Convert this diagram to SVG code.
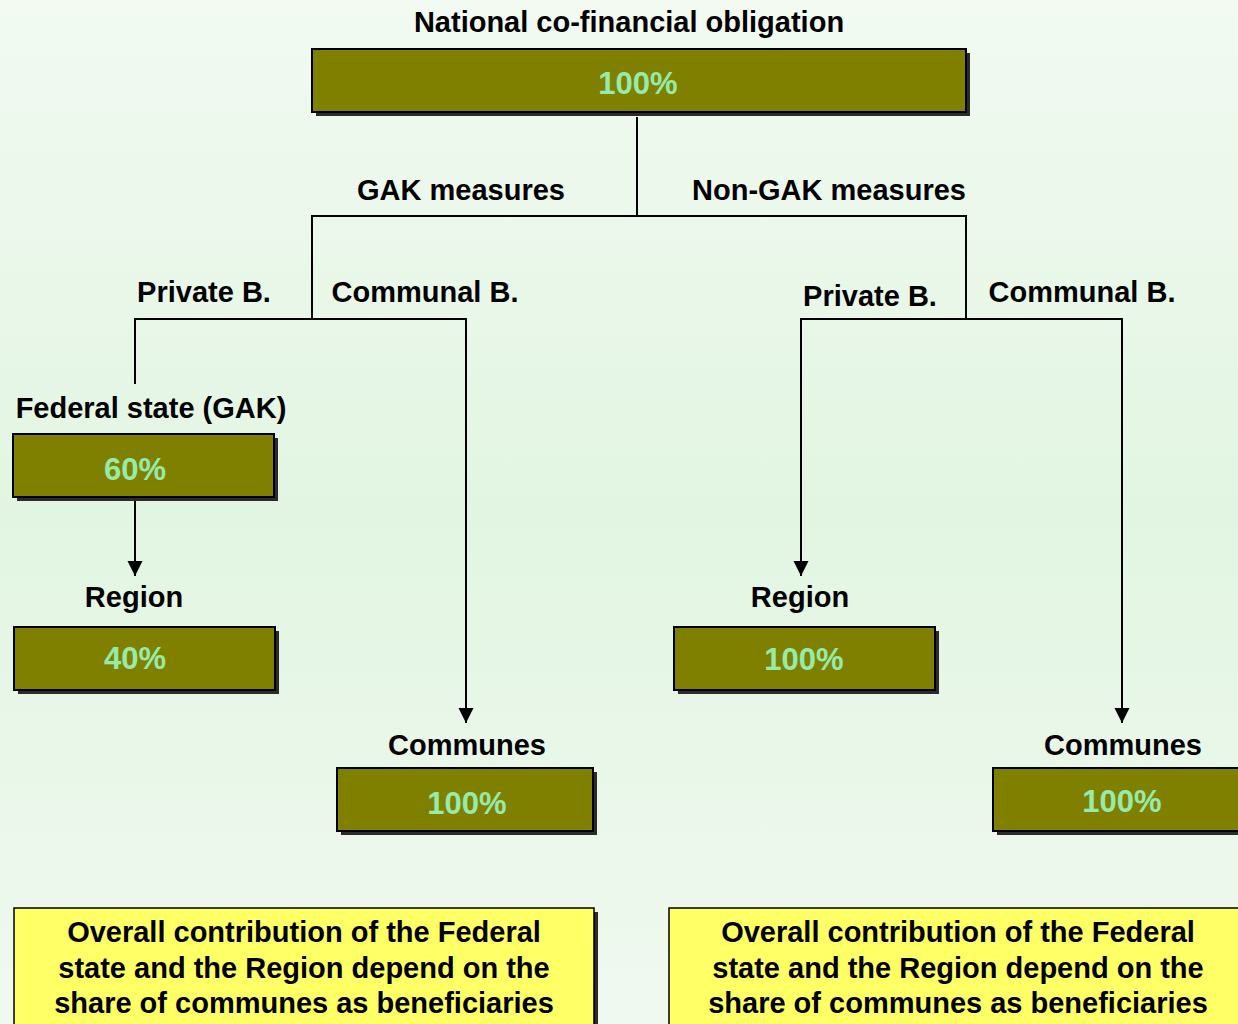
<svg xmlns="http://www.w3.org/2000/svg" width="1238" height="1024" viewBox="0 0 1238 1024">
<defs>
<linearGradient id="bg" x1="0" y1="0" x2="0" y2="1">
<stop offset="0" stop-color="#f2faf2"/>
<stop offset="0.5" stop-color="#e2f5e2"/>
<stop offset="1" stop-color="#f0f9f0"/>
</linearGradient>
<marker id="arr" markerUnits="userSpaceOnUse" markerWidth="15" markerHeight="16" refX="15" refY="7.5" orient="auto" viewBox="0 0 15 15">
<path d="M0,0 L15,7.5 L0,15 z" fill="#000"/>
</marker>
<style>
.lbl{font-family:"Liberation Sans",Arial,sans-serif;font-weight:bold;font-size:29px;fill:#000;text-anchor:middle}
.pct{font-family:"Liberation Sans",Arial,sans-serif;font-weight:bold;font-size:31px;fill:#96EBAA;text-anchor:middle}
.box{fill:#808000;stroke:#000;stroke-width:2}
.shd{fill:#2b2b2b}
.note{fill:#FFFF66;stroke:#000;stroke-width:1.5}
.ln{fill:none;stroke:#000;stroke-width:2}
</style>
</defs>
<rect x="0" y="0" width="1238" height="1024" fill="url(#bg)"/>

<g id="connectors">
<path class="ln" d="M637,117 V216"/>
<path class="ln" d="M311,216 H967"/>
<path class="ln" d="M312,216 V319"/>
<path class="ln" d="M966,216 V319"/>
<path class="ln" d="M134,319 H467"/>
<path class="ln" d="M135,319 V384"/>
<path class="ln" d="M466,319 V723" marker-end="url(#arr)"/>
<path class="ln" d="M800,319 H1123"/>
<path class="ln" d="M801,319 V576" marker-end="url(#arr)"/>
<path class="ln" d="M1122,319 V723" marker-end="url(#arr)"/>
<path class="ln" d="M135,499 V576" marker-end="url(#arr)"/>
</g>

<g id="edge-labels">
<text class="lbl" x="461" y="200">GAK measures</text>
<text class="lbl" x="829" y="200">Non-GAK measures</text>
<text class="lbl" x="204" y="302">Private B.</text>
<text class="lbl" x="425" y="302">Communal B.</text>
<text class="lbl" x="870" y="306">Private B.</text>
<text class="lbl" x="1082" y="302">Communal B.</text>
</g>

<g id="node-national">
<text class="lbl" x="629" y="32">National co-financial obligation</text>
<rect class="shd" x="316" y="53" width="654" height="63"/>
<rect class="box" x="312" y="49" width="654" height="63"/>
<text class="pct" x="638" y="94">100%</text>
</g>

<g id="node-federal">
<text class="lbl" x="151" y="418">Federal state (GAK)</text>
<rect class="shd" x="17" y="438" width="261" height="63"/>
<rect class="box" x="13" y="434" width="261" height="63"/>
<text class="pct" x="135" y="480">60%</text>
</g>

<g id="node-region-left">
<text class="lbl" x="134" y="607">Region</text>
<rect class="shd" x="18" y="631" width="261" height="63"/>
<rect class="box" x="14" y="627" width="261" height="63"/>
<text class="pct" x="135" y="669">40%</text>
</g>

<g id="node-region-right">
<text class="lbl" x="800" y="607">Region</text>
<rect class="shd" x="678" y="631" width="261" height="63"/>
<rect class="box" x="674" y="627" width="261" height="63"/>
<text class="pct" x="804" y="670">100%</text>
</g>

<g id="node-communes-left">
<text class="lbl" x="467" y="755">Communes</text>
<rect class="shd" x="341" y="772" width="256" height="63"/>
<rect class="box" x="337" y="768" width="256" height="63"/>
<text class="pct" x="467" y="814">100%</text>
</g>

<g id="node-communes-right">
<text class="lbl" x="1123" y="755">Communes</text>
<rect class="shd" x="997" y="772" width="256" height="63"/>
<rect class="box" x="993" y="768" width="256" height="63"/>
<text class="pct" x="1122" y="812">100%</text>
</g>

<g id="note-left">
<rect class="shd" x="18" y="912" width="580" height="120"/>
<rect class="note" x="14" y="908" width="580" height="120"/>
<text class="lbl" x="304" y="942">Overall contribution of the Federal</text>
<text class="lbl" x="304" y="978">state and the Region depend on the</text>
<text class="lbl" x="304" y="1013">share of communes as beneficiaries</text>
</g>

<g id="note-right">
<rect class="shd" x="673" y="912" width="580" height="120"/>
<rect class="note" x="669" y="908" width="580" height="120"/>
<text class="lbl" x="958" y="942">Overall contribution of the Federal</text>
<text class="lbl" x="958" y="978">state and the Region depend on the</text>
<text class="lbl" x="958" y="1013">share of communes as beneficiaries</text>
</g>
</svg>
